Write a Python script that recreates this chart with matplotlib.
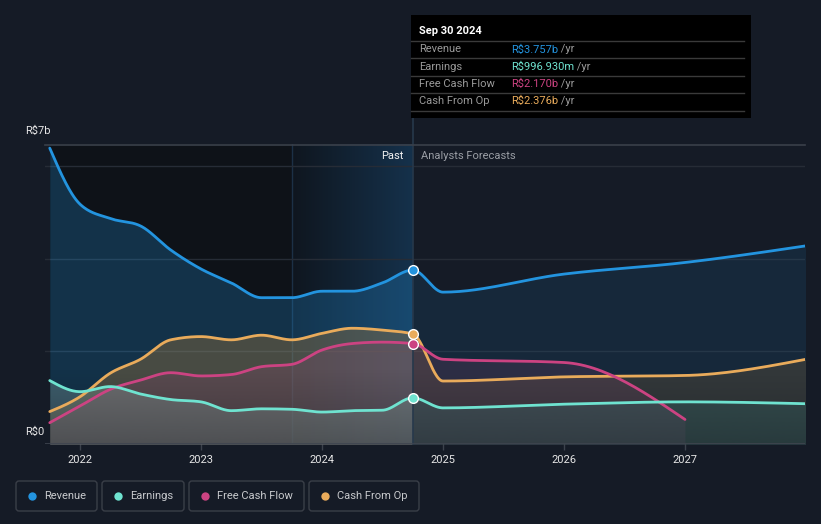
import numpy as np
import matplotlib
matplotlib.use("Agg")
import matplotlib.pyplot as plt
from matplotlib.patches import FancyBboxPatch, Rectangle
from matplotlib.colors import LinearSegmentedColormap, to_rgba

plt.rcParams['font.family'] = ['Roboto', 'DejaVu Sans']

# ---------------- data (R$ billions) ----------------
hist_dates = [2021.75, 2022.0, 2022.25, 2022.5, 2022.75, 2023.0, 2023.25,
              2023.5, 2023.75, 2024.0, 2024.25, 2024.5, 2024.75]
fc_dates = [2025.0, 2026.0, 2027.0, 2028.0]
fcf_fc_dates = [2025.0, 2026.0, 2027.0]

revenue_hist = [6.39, 5.18, 4.87, 4.71, 4.19, 3.78, 3.48, 3.16, 3.16, 3.30, 3.30, 3.48, 3.757]
revenue_fc = [3.28, 3.67, 3.92, 4.28]
earnings_hist = [1.37, 1.13, 1.24, 1.08, 0.96, 0.91, 0.72, 0.76, 0.75, 0.69, 0.72, 0.73, 0.997]
earnings_fc = [0.78, 0.86, 0.91, 0.87]
fcf_hist = [0.46, 0.82, 1.18, 1.38, 1.54, 1.47, 1.50, 1.67, 1.72, 2.03, 2.17, 2.20, 2.170]
fcf_fc = [1.83, 1.76, 0.53]
cfo_hist = [0.70, 1.02, 1.53, 1.83, 2.25, 2.32, 2.25, 2.35, 2.25, 2.39, 2.50, 2.46, 2.376]
cfo_fc = [1.36, 1.45, 1.48, 1.83]

series_names = ["Revenue", "Earnings", "Free Cash Flow", "Cash From Op"]
series_colors = ["#2394df", "#6fe3d0", "#cc4382", "#e9ab5b"]
fill_colors = ["#2394df", "#8fb0aa", "#8a4a72", "#a8793a"]
fill_alpha_past = [0.25, 0.34, 0.26, 0.36]
fill_alpha_fc = [0.11, 0.2, 0.2, 0.2]
fc_earn_color = "#3fa5a3"
tooltip_date = "Sep 30 2024"
tooltip_values = ["R$3.757b", "R$996.930m", "R$2.170b", "R$2.376b"]
year_ticks = [2022, 2023, 2024, 2025, 2026, 2027]
past_start, past_highlight, past_end = 2021.75, 2023.75, 2024.75

BG = "#151b26"
FS = 8.0


def monotone(xs, ys, n=30):
    """d3 curveMonotoneX style rendering of a polyline."""
    x = np.asarray(xs, float)
    y = np.asarray(ys, float)
    h = np.diff(x)
    s = np.diff(y) / h
    m = np.zeros_like(y)
    for i in range(1, len(x) - 1):
        h0, h1, s0, s1 = h[i - 1], h[i], s[i - 1], s[i]
        p = (s0 * h1 + s1 * h0) / (h0 + h1)
        m[i] = (np.sign(s0) + np.sign(s1)) * min(abs(s0), abs(s1), 0.5 * abs(p))
    if len(x) > 2:
        m[0] = (3 * s[0] - m[1]) / 2
        m[-1] = (3 * s[-1] - m[-2]) / 2
    else:
        m[:] = s[0]
    X, Y = [], []
    for i in range(len(x) - 1):
        t = np.linspace(0, 1, n, endpoint=(i == len(x) - 2))
        h00 = 2 * t**3 - 3 * t**2 + 1
        h10 = t**3 - 2 * t**2 + t
        h01 = -2 * t**3 + 3 * t**2
        h11 = t**3 - t**2
        X.append(x[i] + t * h[i])
        Y.append(h00 * y[i] + h10 * h[i] * m[i] + h01 * y[i + 1] + h11 * h[i] * m[i + 1])
    return np.concatenate(X), np.concatenate(Y)


W, H = 821, 524
fig = plt.figure(figsize=(W / 100, H / 100), dpi=100, facecolor=BG)

# main axes: pixel x 45..805, y 144..444
px_per_year = 121.0
x0 = 2022 - (80 - 45) / px_per_year
x1 = 2027 + (805 - 685) / px_per_year
px_per_b = 46.3
ytop = 300 / px_per_b
ax = fig.add_axes([45 / W, (H - 444) / H, 760 / W, 300 / H])
ax.set_facecolor(BG)
for sp in ax.spines.values():
    sp.set_visible(False)
ax.set_yticks([])
ax.set_xticks(year_ticks)
ax.set_xticklabels([str(y) for y in year_ticks], color="#e6e6e6", fontsize=FS)
ax.tick_params(axis="x", length=4, width=1, color="#3c424c", pad=4)

# past background: darker region and blue highlight gradient
ax.axvspan(past_start, past_end, color="#0e1218", zorder=0, lw=0)
grad = np.linspace(0, 1, 256).reshape(1, -1)
cmap_hl = LinearSegmentedColormap.from_list("hl", ["#0f161f", "#15314b"])
ax.imshow(grad, extent=[past_highlight, past_end, 0, ytop], aspect="auto",
          cmap=cmap_hl, zorder=0.5, interpolation="bicubic")
ax.axvline(past_highlight, color="#1c3046", lw=1, zorder=0.6)

# gridlines
for gy in [2, 4, 6]:
    ax.axhline(gy, color="#262c36", lw=1, zorder=1)

# series
all_hist = [revenue_hist, earnings_hist, fcf_hist, cfo_hist]
all_fc = [revenue_fc, earnings_fc, fcf_fc, cfo_fc]
all_fc_dates = [fc_dates, fc_dates, fcf_fc_dates, fc_dates]
order_fill = [0, 3, 2, 1]
curves = []
for k in range(4):
    xs = hist_dates + all_fc_dates[k]
    ys = all_hist[k] + all_fc[k]
    curves.append(monotone(xs, ys))

for k in order_fill:
    X, Y = curves[k]
    past = X <= past_end + 1e-9
    fut = X >= past_end - 1e-9
    ax.fill_between(X[past], 0, Y[past], color=fill_colors[k], alpha=fill_alpha_past[k],
                    lw=0, zorder=2)
    ax.fill_between(X[fut], 0, Y[fut], color=fc_earn_color if k == 1 else fill_colors[k],
                    alpha=fill_alpha_fc[k], lw=0, zorder=2)

# subtle darkening toward the baseline
shade = np.zeros((256, 1, 4))
shade[..., :3] = to_rgba("#0b0f15")[:3]
shade[..., 3] = np.linspace(0.0, 0.3, 256).reshape(256, 1)
ax.imshow(shade, extent=[past_start, fc_dates[-1], 0, 1.6], aspect="auto", zorder=2.5,
          interpolation="bilinear")
ax.set_xlim(x0, x1)
ax.set_ylim(0, ytop)

ax.axhline(0, color="#3f4550", lw=1.2, zorder=6)

for k in [0, 3, 2, 1]:
    X, Y = curves[k]
    ax.plot(X, Y, color=series_colors[k], lw=2.0, zorder=4, solid_capstyle="round")

# markers at tooltip date
for k in [0, 3, 2, 1]:
    ax.plot([past_end], [all_hist[k][-1]], marker="o", ms=7, mfc=series_colors[k],
            mec="white", mew=1.0, zorder=5, ls="none")

# vertical tooltip line
ax.plot([past_end, past_end], [0, (444 - 118) / px_per_b], color="#26384b", lw=1.2,
        zorder=3, clip_on=False)

# Past / Analysts Forecasts
ax.annotate("Past", xy=(past_end, ytop), xytext=(-6.8, -8.8), textcoords="offset points",
            ha="right", va="center", color="#f2f2f2", fontsize=FS)
ax.annotate("Analysts Forecasts", xy=(past_end, ytop), xytext=(5.6, -8.8),
            textcoords="offset points", ha="left", va="center", color="#9a9ea5", fontsize=FS)

# overlay in pixel coordinates
ov = fig.add_axes([0, 0, 1, 1], zorder=10)
ov.set_xlim(0, W)
ov.set_ylim(H, 0)
ov.axis("off")
ov.patch.set_alpha(0)

ov.plot([45, 805], [144.5, 144.5], color="#3a404a", lw=1.2)
ov.text(25, 131, "R$7b", color="#e6e6e6", fontsize=FS, va="center", ha="left")
ov.add_patch(Rectangle((20, 424), 27, 18, color=BG, lw=0))
ov.text(25, 432, "R$0", color="#e6e6e6", fontsize=FS, va="center", ha="left")

# tooltip
ov.add_patch(Rectangle((411, 15), 340, 103, color="#000000", lw=0))
ov.text(419, 31, tooltip_date, color="#ffffff", fontsize=FS, va="center", ha="left",
        fontweight="bold")
row_y = [49.5, 66.5, 84, 101]
for yy in [41, 58, 75.5, 93, 110.5]:
    ov.plot([411, 744], [yy, yy], color="#3a3a3a", lw=1)
for i in range(4):
    ov.text(419, row_y[i], series_names[i], color="#9a9a9a", fontsize=FS, va="center", ha="left")
    t = ov.text(511, row_y[i], tooltip_values[i], color=series_colors[i], fontsize=FS,
                va="center", ha="left")
    ov.annotate(" /yr", xycoords=t, xy=(1, 0.5), va="center", ha="left",
                color="#9a9a9a", fontsize=FS)

# legend
boxes = [(16, 81), (102, 82), (189, 115), (309, 110)]
for i, (bx, bw) in enumerate(boxes):
    ov.add_patch(FancyBboxPatch((bx, 481), bw, 30, boxstyle="round,pad=0,rounding_size=3",
                                fc="none", ec="#3a3f48", lw=1))
    ov.plot([bx + 16], [496], marker="o", ms=6, color=series_colors[i], mec="none")
    ov.text(bx + 28, 496, series_names[i], color="#c8cacd", fontsize=FS, va="center", ha="left")

fig.savefig("out.png", dpi=100, facecolor=BG)
